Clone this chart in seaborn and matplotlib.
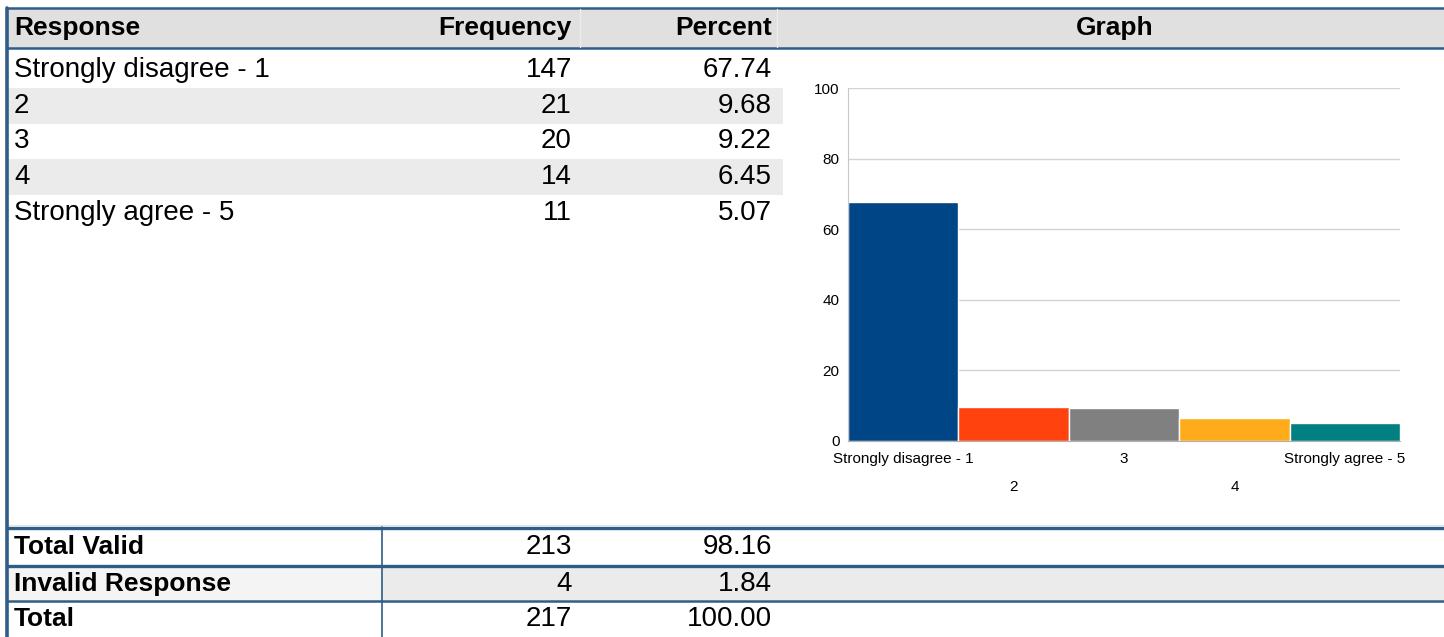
import matplotlib
matplotlib.use("Agg")
import matplotlib.pyplot as plt
import seaborn as sns
import pandas as pd

sns.set_style("white")
plt.rcParams['font.family'] = ['Liberation Sans', 'DejaVu Sans']
plt.rcParams['text.color'] = 'black'
plt.rcParams['xtick.color'] = 'black'
plt.rcParams['ytick.color'] = 'black'

# data
headers = ["Response", "Frequency", "Percent", "Graph"]
responses = ["Strongly disagree - 1", "2", "3", "4", "Strongly agree - 5"]
freq = [147, 21, 20, 14, 11]
pct = [67.74, 9.68, 9.22, 6.45, 5.07]
summary_labels = ["Total Valid", "Invalid Response", "Total"]
summary_freq = [213, 4, 217]
summary_pct = [98.16, 1.84, 100.00]
bar_colors = ["#004586", "#ff420e", "#808080", "#ffab1c", "#008080"]

W, H = 1444, 637
line_c = "#2f5d87"
fs = 20     # regular text
fsb = 19    # bold text

fig = plt.figure(figsize=(W / 100, H / 100), dpi=100)
bg = fig.add_axes([0, 0, 1, 1])
bg.set_xlim(0, W)
bg.set_ylim(H, 0)
bg.axis("off")

# header
bg.fill_between([8, W], 8, 48, color="#e0e0e0", lw=0)
bg.plot([8, W], [8, 8], color=line_c, lw=1.8)
bg.plot([8, W], [48, 48], color=line_c, lw=1.8)
bg.plot([580, 580], [9, 47], color="#ececec", lw=1)
bg.plot([777, 777], [9, 47], color="#ececec", lw=1)
bg.text(14, 28, headers[0], fontsize=fsb, fontweight="bold", va="center", ha="left")
bg.text(572, 28, headers[1], fontsize=fsb, fontweight="bold", va="center", ha="right")
bg.text(772, 28, headers[2], fontsize=fsb, fontweight="bold", va="center", ha="right")
bg.text(1115, 28, headers[3], fontsize=fsb, fontweight="bold", va="center", ha="center")

# response rows
row_top = 52
row_h = 35.8
for i, (r, f, p) in enumerate(zip(responses, freq, pct)):
    y0 = row_top + i * row_h
    if i % 2 == 1:
        bg.fill_between([8, 783], y0, y0 + row_h, color="#ebebeb", lw=0)
    yc = y0 + row_h / 2
    bg.text(14, yc, r, fontsize=fs, va="center", ha="left")
    bg.text(572, yc, str(f), fontsize=fs, va="center", ha="right")
    bg.text(772, yc, f"{p:.2f}", fontsize=fs, va="center", ha="right")

# summary rows
bounds = [527, 566, 600, 637]
bg.fill_between([8, 382], 566, 600, color="#f4f4f4", lw=0)
bg.fill_between([382, W], 566, 600, color="#ebebeb", lw=0)
for i, (lab, f, p) in enumerate(zip(summary_labels, summary_freq, summary_pct)):
    yc = (bounds[i] + bounds[i + 1]) / 2 + 1
    bg.text(14, yc, lab, fontsize=fsb, fontweight="bold", va="center", ha="left")
    bg.text(572, yc, str(f), fontsize=fs, va="center", ha="right")
    bg.text(772, yc, f"{p:.2f}", fontsize=fs, va="center", ha="right")
bg.plot([8, W], [525, 525], color="#dde4ea", lw=0.8)
bg.plot([8, W], [527.5, 527.5], color=line_c, lw=2.4)
bg.plot([8, W], [566, 566], color=line_c, lw=2.4)
bg.plot([8, W], [600.5, 600.5], color=line_c, lw=1.8)
bg.plot([382, 382], [527, H], color=line_c, lw=1.2)
bg.plot([6.5, 6.5], [8, H], color=line_c, lw=2.6)

# bar chart
ax = fig.add_axes([848 / W, (H - 441) / H, 552 / W, 353 / H])
df = pd.DataFrame({"response": responses, "percent": pct})
sns.barplot(data=df, x="response", y="percent", hue="response",
            palette=bar_colors, saturation=1, width=1.0, edgecolor="white",
            linewidth=1, legend=False, ax=ax, zorder=2)
ax.set_xlim(-0.5, 4.5)
ax.set_ylim(0, 100)
ax.set_yticks([0, 20, 40, 60, 80, 100])
ax.yaxis.grid(True, color="#d4d4d4", lw=1, zorder=0)
ax.set_axisbelow(True)
ax.set_xlabel("")
ax.set_ylabel("")
for s in ["top", "right"]:
    ax.spines[s].set_visible(False)
ax.spines["left"].set_color("#c8c8c8")
ax.spines["bottom"].set_color("#b0b0b0")
ax.tick_params(axis="both", length=0, labelsize=11)
ax.tick_params(axis="y", pad=6)
for i, t in enumerate(ax.xaxis.get_major_ticks()):
    t.set_pad(8 if i % 2 == 0 else 28)

fig.savefig("out.png", dpi=100)
